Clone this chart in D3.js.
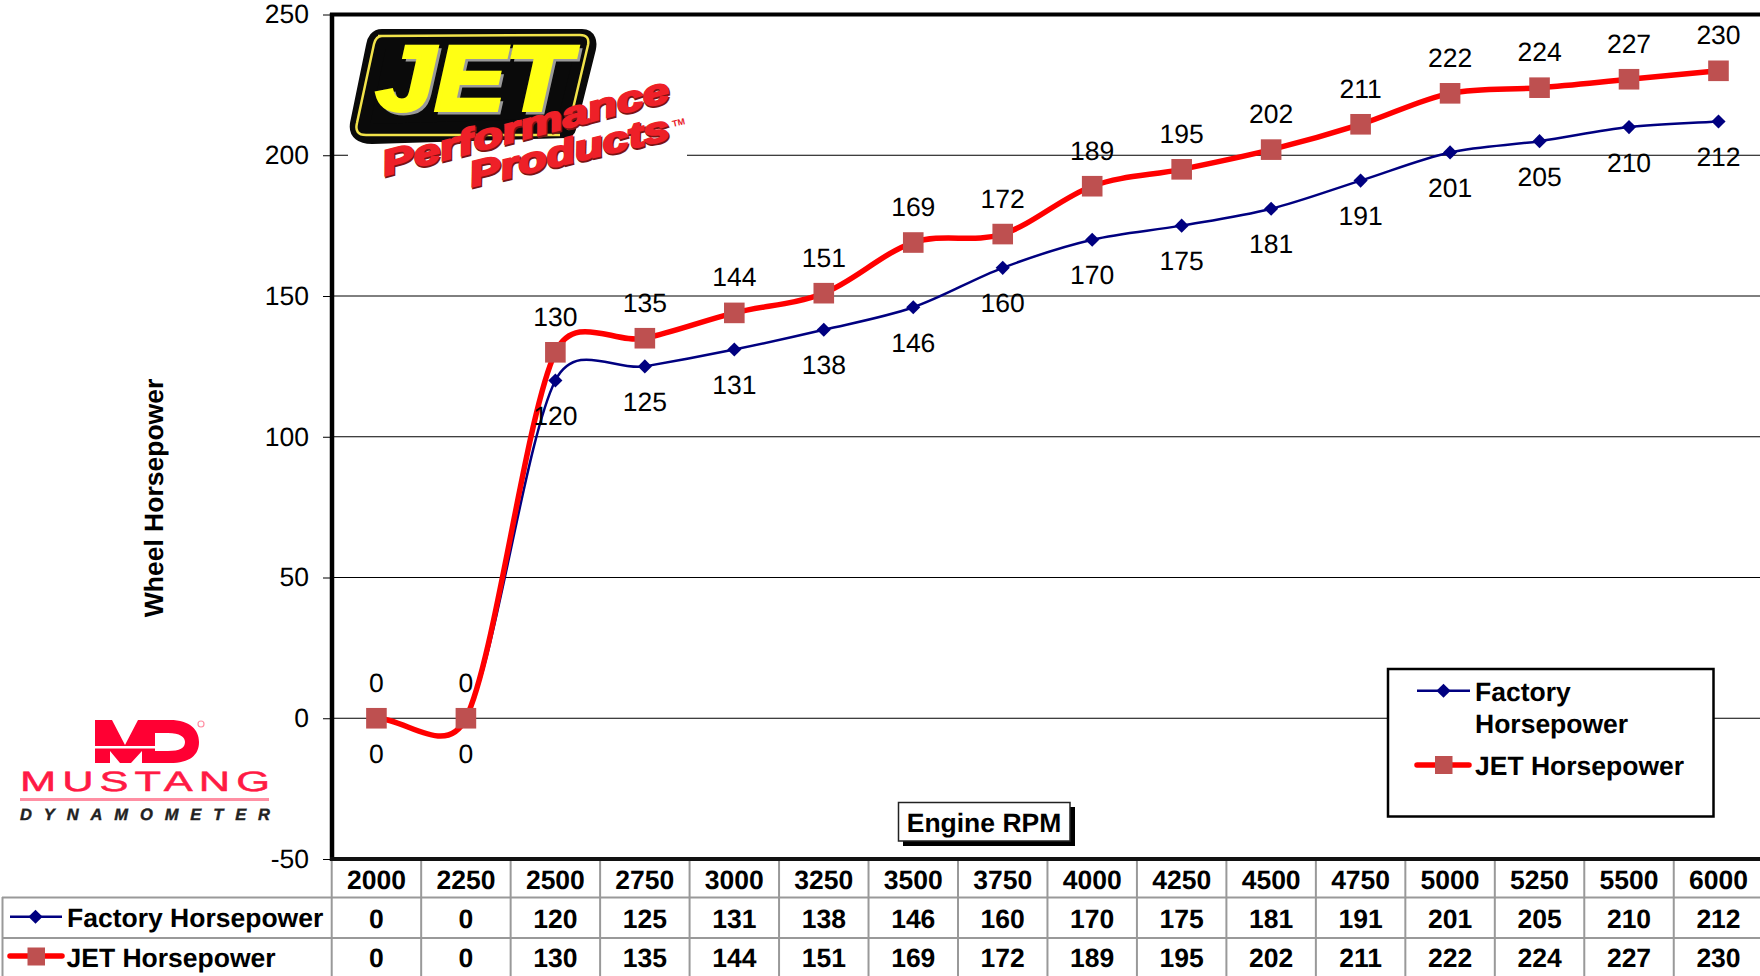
<!DOCTYPE html>
<html><head><meta charset="utf-8">
<script src="https://cdn.jsdelivr.net/npm/d3@7"></script>
<style>
html,body{margin:0;padding:0;background:#fff;overflow:hidden}
text{font-family:"Liberation Sans",Arial,sans-serif;fill:#000;text-rendering:geometricPrecision}
</style></head><body><svg id="c" width="1760" height="976"></svg>
<script>
const rpm=["2000","2250","2500","2750","3000","3250","3500","3750","4000","4250","4500","4750","5000","5250","5500","6000"];
const factoryHp=[0,0,120,125,131,138,146,160,170,175,181,191,201,205,210,212];
const jetHp=[0,0,130,135,144,151,169,172,189,195,202,211,222,224,227,230];
const yTicks=[-50,0,50,100,150,200,250];
const seriesNames=["Factory Horsepower","JET Horsepower"];

const svg=d3.select("#c");
const FS=26.5;
const x=d3.scaleBand().domain(rpm).range([331.7,331.7+89.47*16]);
const y=d3.scaleLinear().domain([-50,250]).range([859,14.5]);
const cx=d=>x(d)+x.bandwidth()/2;

// Excel-style smoothed line as a d3 curve
function excelCurve(ctx){
  let pts=[];
  const dist=(a,b)=>Math.hypot(a[0]-b[0],a[1]-b[1]);
  return {
    areaStart(){},areaEnd(){},
    lineStart(){pts=[];},
    point(a,b){pts.push([+a,+b]);},
    lineEnd(){
      ctx.moveTo(pts[0][0],pts[0][1]);
      for(let i=0;i<pts.length-1;i++){
        const p0=pts[Math.max(i-1,0)],p1=pts[i],p2=pts[i+1],p3=pts[Math.min(i+2,pts.length-1)];
        const d12=dist(p1,p2),d02=dist(p0,p2),d13=dist(p1,p3);
        let f1=d02/6<d12/2?1/6:d12/2/d02;
        let f2=d13/6<d12/2?1/6:d12/2/d13;
        if(i===0)f1*=2;
        if(i===pts.length-2)f2*=2;
        ctx.bezierCurveTo(p1[0]+(p2[0]-p0[0])*f1,p1[1]+(p2[1]-p0[1])*f1,
                          p2[0]-(p3[0]-p1[0])*f2,p2[1]-(p3[1]-p1[1])*f2,p2[0],p2[1]);
      }
    }
  };
}

const RED="#FF0000",NAVY="#000080",MK="#BE5050",GRID="#999999";

// gridlines
svg.append("g").selectAll("line").data(yTicks.filter(t=>t>-50&&t<250)).join("line")
  .attr("x1",332).attr("x2",1760).attr("y1",d=>y(d)).attr("y2",d=>y(d))
  .attr("stroke","#000").attr("stroke-width",1);

// y axis with labels
const ax=svg.append("g").attr("transform","translate(332,0)")
  .call(d3.axisLeft(y).tickValues(yTicks).tickSize(9).tickSizeOuter(0).tickPadding(14).tickFormat(d=>String(d)));
ax.select(".domain").remove();
ax.selectAll("line").attr("stroke","#000").attr("stroke-width",1);
ax.selectAll("text").attr("font-size",FS).attr("font-family",'"Liberation Sans"').attr("fill","#000");

// JET logo
const jl=svg.append("g");
jl.append("rect").attr("x",348).attr("y",24).attr("width",339).attr("height",166).attr("fill","#fff");
jl.append("path").attr("d","M382 39 L582 39 Q588 39 586 48 L566 128 L372 134 Q358 134 360 124 L376 46 Q377 39 382 39Z")
  .attr("fill","#0a0a0a").attr("stroke","#0a0a0a").attr("stroke-width",20).attr("stroke-linejoin","round");
jl.append("path").attr("d","M378 36 L580 35 Q590 35 588 45 L568 130 M560 135 L366 135 Q354 135 357 123 L374 44 Q376 36 382 36")
  .attr("fill","none").attr("stroke","#F2E34A").attr("stroke-width",2.5);
jl.append("text").attr("x",376).attr("y",110).attr("font-size",92).attr("font-weight","bold").attr("font-style","italic")
  .attr("textLength",194).attr("lengthAdjust","spacingAndGlyphs").attr("style","fill:#9a9a9a;stroke:#9a9a9a;stroke-width:3").attr("dx",3).attr("dy",3).text("JET");
jl.append("text").attr("x",376).attr("y",110).attr("font-size",92).attr("font-weight","bold").attr("font-style","italic")
  .attr("textLength",194).attr("lengthAdjust","spacingAndGlyphs").attr("style","fill:#FFFF14;stroke:#FFFF14;stroke-width:4").text("JET");
jl.append("text").attr("transform","translate(386,177) rotate(-14.7)").attr("font-size",35).attr("font-weight","bold").attr("font-style","italic")
  .attr("textLength",296).attr("lengthAdjust","spacingAndGlyphs").attr("style","fill:#7a1414;stroke:#7a1414;stroke-width:2.5").text("Performance");
jl.append("text").attr("transform","translate(385,175.5) rotate(-14.7)").attr("font-size",35).attr("font-weight","bold").attr("font-style","italic")
  .attr("textLength",296).attr("lengthAdjust","spacingAndGlyphs").attr("style","fill:#EE2028;stroke:#EE2028;stroke-width:2").text("Performance");
jl.append("text").attr("transform","translate(473,188) rotate(-13.5)").attr("font-size",35).attr("font-weight","bold").attr("font-style","italic")
  .attr("textLength",205).attr("lengthAdjust","spacingAndGlyphs").attr("style","fill:#7a1414;stroke:#7a1414;stroke-width:2.5").text("Products");
jl.append("text").attr("transform","translate(472,186.5) rotate(-13.5)").attr("font-size",35).attr("font-weight","bold").attr("font-style","italic")
  .attr("textLength",205).attr("lengthAdjust","spacingAndGlyphs").attr("style","fill:#EE2028;stroke:#EE2028;stroke-width:2").text("Products");
jl.append("text").attr("transform","translate(673,127) rotate(-13)").attr("font-size",9).attr("font-weight","bold")
  .attr("style","fill:#E8202A").text("TM");

// series
const line=d3.line().x((d,i)=>cx(rpm[i])).y(d=>y(d)).curve(excelCurve);
svg.append("path").datum(factoryHp).attr("d",line).attr("fill","none").attr("stroke",NAVY).attr("stroke-width",2.5);
svg.append("path").datum(jetHp).attr("d",line).attr("fill","none").attr("stroke",RED).attr("stroke-width",5.5);
const diamond=d3.symbol().type(d3.symbolSquare).size(100);
svg.append("g").selectAll("path").data(factoryHp).join("path")
  .attr("d",diamond).attr("fill",NAVY)
  .attr("transform",(d,i)=>`translate(${cx(rpm[i])},${y(d)}) rotate(45)`);
svg.append("g").selectAll("rect").data(jetHp).join("rect")
  .attr("x",(d,i)=>cx(rpm[i])-10.3).attr("y",d=>y(d)-10.3).attr("width",20.6).attr("height",20.6).attr("fill",MK);

// data labels
svg.append("g").selectAll("text").data(factoryHp).join("text")
  .attr("x",(d,i)=>cx(rpm[i])).attr("y",d=>y(d)+35).attr("dy","0.36em").attr("text-anchor","middle").attr("font-size",FS).text(d=>d);
svg.append("g").selectAll("text").data(jetHp).join("text")
  .attr("x",(d,i)=>cx(rpm[i])).attr("y",d=>y(d)-36).attr("dy","0.36em").attr("text-anchor","middle").attr("font-size",FS).text(d=>d);

// plot frame
svg.append("line").attr("x1",332).attr("x2",332).attr("y1",13).attr("y2",861).attr("stroke","#000").attr("stroke-width",4.5);
svg.append("line").attr("x1",330).attr("x2",1760).attr("y1",14.5).attr("y2",14.5).attr("stroke","#000").attr("stroke-width",4);
svg.append("line").attr("x1",330).attr("x2",1760).attr("y1",859).attr("y2",859).attr("stroke","#111").attr("stroke-width",4);

// axis title
svg.append("text").attr("transform","translate(153,498) rotate(-90)").attr("dy","0.36em").attr("text-anchor","middle")
  .attr("font-size",FS).attr("font-weight","bold").text("Wheel Horsepower");

// Engine RPM box
svg.append("rect").attr("x",903).attr("y",807).attr("width",172).attr("height",39).attr("fill","#000");
svg.append("rect").attr("x",898.5).attr("y",802.5).attr("width",171.5).attr("height",38.5).attr("fill","#fff").attr("stroke","#222").attr("stroke-width",1.5);
svg.append("text").attr("x",984).attr("y",822).attr("dy","0.36em").attr("text-anchor","middle").attr("font-size",FS).attr("font-weight","bold").text("Engine RPM");

// legend
const lg=svg.append("g");
lg.append("rect").attr("x",1388).attr("y",669).attr("width",325.5).attr("height",147.5).attr("fill","#fff").attr("stroke","#000").attr("stroke-width",2.5);
lg.append("line").attr("x1",1417).attr("x2",1470).attr("y1",690.7).attr("y2",690.7).attr("stroke",NAVY).attr("stroke-width",2.5);
lg.append("path").attr("d",diamond).attr("fill",NAVY).attr("transform","translate(1443.5,690.7) rotate(45)");
lg.append("line").attr("x1",1417).attr("x2",1469).attr("y1",765).attr("y2",765).attr("stroke",RED).attr("stroke-width",5.5).attr("stroke-linecap","round");
lg.append("rect").attr("x",1435).attr("y",756).attr("width",17.5).attr("height",18).attr("fill",MK);
[["Factory",691],["Horsepower",723]].forEach(([t,yy])=>lg.append("text").attr("x",1475).attr("y",yy).attr("dy","0.36em").attr("font-size",FS).attr("font-weight","bold").text(t));
lg.append("text").attr("x",1475).attr("y",765).attr("dy","0.36em").attr("font-size",FS).attr("font-weight","bold").text(seriesNames[1]);

// data table
const rowY=[879.5,918.5,957.5];
const tb=svg.append("g");
[897.5,938].forEach(v=>tb.append("line").attr("x1",2).attr("x2",1760).attr("y1",v).attr("y2",v).attr("stroke",GRID).attr("stroke-width",2));
tb.append("line").attr("x1",2.5).attr("x2",2.5).attr("y1",897).attr("y2",976).attr("stroke",GRID).attr("stroke-width",2);
tb.append("g").selectAll("line").data(rpm).join("line")
  .attr("x1",d=>x(d)).attr("x2",d=>x(d)).attr("y1",861).attr("y2",976).attr("stroke",GRID).attr("stroke-width",2);
[rpm,factoryHp,jetHp].forEach((row,r)=>{
  tb.append("g").selectAll("text").data(row).join("text")
    .attr("x",(d,i)=>cx(rpm[i])).attr("y",rowY[r]).attr("dy","0.36em").attr("text-anchor","middle")
    .attr("font-size",FS).attr("font-weight","bold").text(d=>d);
});
tb.append("line").attr("x1",10).attr("x2",62).attr("y1",916.7).attr("y2",916.7).attr("stroke",NAVY).attr("stroke-width",2.5);
tb.append("path").attr("d",diamond).attr("fill",NAVY).attr("transform","translate(35.5,916.7) rotate(45)");
tb.append("line").attr("x1",10).attr("x2",62).attr("y1",956).attr("y2",956).attr("stroke",RED).attr("stroke-width",5.5).attr("stroke-linecap","round");
tb.append("rect").attr("x",27.5).attr("y",947.5).attr("width",17.5).attr("height",18).attr("fill",MK);
tb.append("text").attr("x",67).attr("y",917).attr("dy","0.36em").attr("font-size",FS).attr("font-weight","bold").text(seriesNames[0]);
tb.append("text").attr("x",66.5).attr("y",957).attr("dy","0.36em").attr("font-size",FS).attr("font-weight","bold").text(seriesNames[1]);

// Mustang Dynamometer logo
const ml=svg.append("g");
ml.append("path").attr("fill","#FF0033").attr("fill-rule","evenodd")
  .attr("d","M95 720H112L125 745L138 720H170C190 720 199 730 199 742C199 755 190 763 170 763H142V751L131 763H120L110 751V763H95Z M155 733H168C180 733 185 737 185 742C185 748 180 751 168 751H155Z");
ml.append("rect").attr("x",95).attr("y",746).attr("width",60).attr("height",2.5).attr("fill","#fff");
ml.append("circle").attr("cx",201).attr("cy",724).attr("r",3).attr("fill","none").attr("stroke","#FF8FA3").attr("stroke-width",1.2);
ml.append("text").attr("transform","translate(20,790.5) scale(1.55,1)").attr("font-size",28)
  .attr("textLength",250/1.55).attr("lengthAdjust","spacing").attr("style","fill:#FF1A44;stroke:#FF1A44;stroke-width:.5").text("MUSTANG");
ml.append("rect").attr("x",20).attr("y",798).attr("width",249).attr("height",3).attr("fill","#FF8FA3");
ml.append("text").attr("x",20).attr("y",820).attr("font-size",16.5).attr("font-weight","bold").attr("font-style","italic")
  .attr("textLength",250).attr("lengthAdjust","spacing").attr("style","fill:#222;stroke:#222;stroke-width:.4").text("DYNAMOMETER");
</script></body></html>
